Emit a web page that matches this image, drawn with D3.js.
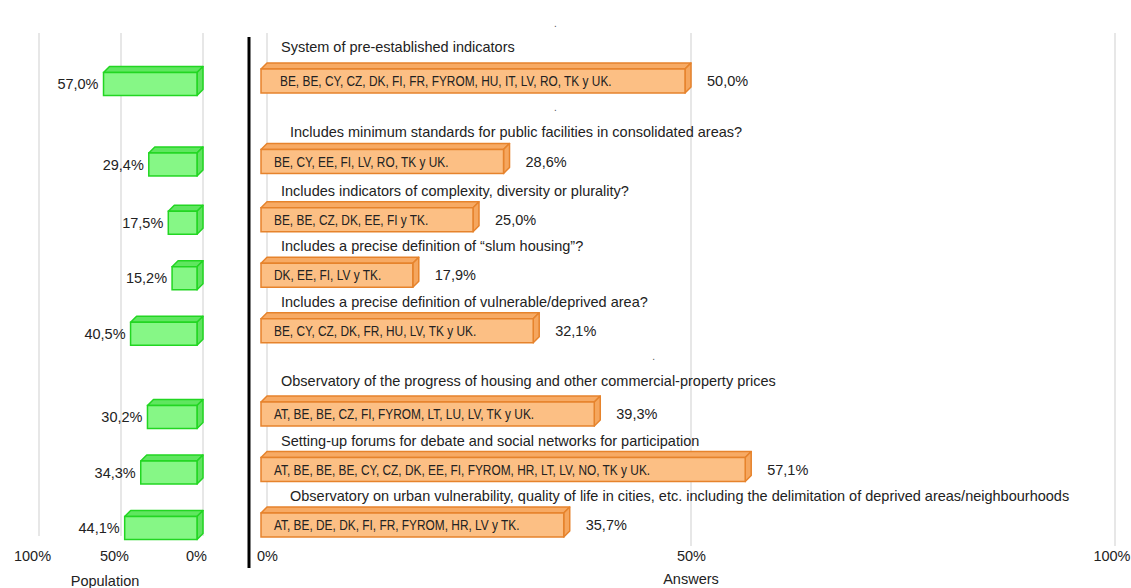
<!DOCTYPE html>
<html>
<head>
<meta charset="utf-8">
<script src="https://cdn.jsdelivr.net/npm/d3@7"></script>
<style>
  html, body { margin: 0; padding: 0; background: #ffffff; }
  svg { display: block; font-family: "Liberation Sans", Arial, sans-serif; }
  .axis path, .axis line { display: none; }
  .axis text { font-size: 14.5px; fill: #222; font-family: "Liberation Sans", Arial, sans-serif; }
</style>
</head>
<body>
<div id="chart"></div>
<script>
// row questions (label above each orange bar)
const rowLabels = [
  "System of pre-established indicators",
  "Includes minimum standards for public facilities in consolidated areas?",
  "Includes indicators of complexity, diversity or plurality?",
  "Includes a precise definition of \u201cslum housing\u201d?",
  "Includes a precise definition of vulnerable/deprived area?",
  "Observatory of the progress of housing and other commercial-property prices",
  "Setting-up forums for debate and social networks for participation",
  "Observatory on urban vulnerability, quality of life in cities, etc. including the delimitation of deprived areas/neighbourhoods"
];

// countries written inside the orange bars
const answerCountries = [
  "BE, BE, CY, CZ, DK, FI, FR, FYROM, HU, IT, LV, RO, TK y UK.",
  "BE, CY, EE, FI, LV, RO, TK y UK.",
  "BE, BE, CZ, DK, EE, FI y TK.",
  "DK, EE, FI, LV y TK.",
  "BE, CY, CZ, DK, FR, HU, LV, TK y UK.",
  "AT, BE, BE, CZ, FI, FYROM, LT, LU, LV, TK y UK.",
  "AT, BE, BE, BE, CY, CZ, DK, EE, FI, FYROM, HR, LT, LV, NO, TK y UK.",
  "AT, BE, DE, DK, FI, FR, FYROM, HR, LV y TK."
];

const answerPct     = [50.0, 28.6, 25.0, 17.9, 32.1, 39.3, 57.1, 35.7];
const populationPct = [57.0, 29.4, 17.5, 15.2, 40.5, 30.2, 34.3, 44.1];

// vertical slot of each row (blank slots between the groups)
const rowSlots = [0, 1.45, 2.5, 3.5, 4.5, 6, 7, 8];

// empty category labels (".") of the blank slots
const blankSlots = [-0.5, 1, 5.5];
const blankPct   = [34, 34, 45.6];

const axisTicks = [0, 50, 100];

const W = 1131, H = 588;
const DEPTH = 6;

const fmtPct = v => v.toFixed(1).replace(".", ",") + "%";

const svg = d3.select("#chart").append("svg")
  .attr("width", W)
  .attr("height", H);

const xPop = d3.scaleLinear().domain([0, 100]).range([203, 39]);
const xAns = d3.scaleLinear().domain([0, 100]).range([267, 1115]);
const yRow = d3.scaleLinear().domain([0, 8]).range([84, 528]);

const gridTop = 33, gridBottom = 536;

// ------- gridlines -------
svg.append("g")
  .selectAll("line")
  .data(axisTicks)
  .join("line")
  .attr("x1", d => xPop(d)).attr("x2", d => xPop(d))
  .attr("y1", gridTop).attr("y2", gridBottom)
  .attr("stroke", "#cfcfcf");

svg.append("g")
  .selectAll("line")
  .data(axisTicks)
  .join("line")
  .attr("x1", d => xAns(d)).attr("x2", d => xAns(d))
  .attr("y1", gridTop).attr("y2", d => d === 0 ? gridBottom : 546)
  .attr("stroke", "#cfcfcf");

// ------- axes (labels only) -------
svg.append("g")
  .attr("class", "axis")
  .attr("transform", `translate(-7,${551})`)
  .call(d3.axisBottom(xPop).tickValues(axisTicks).tickSize(0).tickFormat(d => d + "%"));

const ansAxis = svg.append("g")
  .attr("class", "axis")
  .attr("transform", `translate(0,${551})`)
  .call(d3.axisBottom(xAns).tickValues(axisTicks).tickSize(0).tickFormat(d => d + "%"));

svg.selectAll(".axis text").attr("dy", "0.71em").attr("y", 0);

// last label sits against the right edge
ansAxis.selectAll(".tick text")
  .filter(d => d === 100)
  .attr("text-anchor", "end")
  .attr("x", W - 1 - xAns(100));

svg.append("text")
  .attr("x", 105).attr("y", 586)
  .attr("text-anchor", "middle")
  .attr("font-size", 14.5).attr("fill", "#222")
  .text("Population");

svg.append("text")
  .attr("x", xAns(50)).attr("y", 584)
  .attr("text-anchor", "middle")
  .attr("font-size", 14.5).attr("fill", "#222")
  .text("Answers");

// separator
svg.append("line")
  .attr("x1", 249).attr("x2", 249)
  .attr("y1", 37).attr("y2", 568)
  .attr("stroke", "#000").attr("stroke-width", 3);

// blank category dots
svg.append("g")
  .selectAll("text")
  .data(blankSlots)
  .join("text")
  .attr("x", (d, i) => xAns(blankPct[i]))
  .attr("y", d => yRow(d) - 3 - 26)
  .attr("text-anchor", "middle")
  .attr("font-size", 10).attr("fill", "#555")
  .text(".");

// ------- 3D bar helper -------
function bar3d(g, x0, x1, cy, h, c) {
  const top = cy - h / 2, bot = cy + h / 2, d = DEPTH;
  g.append("path")
    .attr("d", `M${x0},${top}L${x0 + d},${top - d}L${x1 + d},${top - d}L${x1},${top}Z`)
    .attr("fill", c.top).attr("stroke", c.stroke).attr("stroke-width", 1.5).attr("stroke-linejoin", "round");
  g.append("path")
    .attr("d", `M${x1},${top}L${x1 + d},${top - d}L${x1 + d},${bot - d}L${x1},${bot}Z`)
    .attr("fill", c.side).attr("stroke", c.stroke).attr("stroke-width", 1.5).attr("stroke-linejoin", "round");
  g.append("rect")
    .attr("x", x0).attr("y", top)
    .attr("width", x1 - x0).attr("height", h)
    .attr("fill", c.front).attr("stroke", c.stroke).attr("stroke-width", 1.5);
}

const green  = { front: "#86f786", top: "#5fe65f", side: "#62e262", stroke: "#22d622" };
const orange = { front: "#fcbf84", top: "#f7aa64", side: "#f5a65e", stroke: "#e6832c" };

// ------- population (left) -------
const popG = svg.append("g");
populationPct.forEach((v, i) => {
  const cy = yRow(rowSlots[i]);
  bar3d(popG, xPop(v) - DEPTH, xPop(0) - DEPTH, cy, 23, green);
  popG.append("text")
    .attr("x", xPop(v) - DEPTH - 5)
    .attr("y", cy)
    .attr("dy", "0.35em")
    .attr("text-anchor", "end")
    .attr("font-size", 14.5).attr("fill", "#222")
    .text(fmtPct(v));
});

// ------- answers (right) -------
const ansG = svg.append("g");
answerPct.forEach((v, i) => {
  const cy = yRow(rowSlots[i]) - 3;
  bar3d(ansG, xAns(0) - DEPTH, xAns(v) - DEPTH, cy, 24, orange);

  // countries, narrow font
  ansG.append("text")
    .attr("transform", `translate(${i === 0 ? 280 : 274},${cy}) scale(0.82,1)`)
    .attr("dy", "0.35em")
    .attr("font-size", 14.5).attr("fill", "#222")
    .text(answerCountries[i]);

  ansG.append("text")
    .attr("x", xAns(v) + 16)
    .attr("y", cy)
    .attr("dy", "0.35em")
    .attr("font-size", 14.5).attr("fill", "#222")
    .text(fmtPct(v));

  // question above the bar (a bit higher for the first row)
  ansG.append("text")
    .attr("x", (i === 1 || i === 7) ? 290 : 281)
    .attr("y", cy - (i === 0 ? 29 : (i === 5 ? 28 : 24)))
    .attr("font-size", 14.5).attr("fill", "#222")
    .text(rowLabels[i]);
});
</script>
</body>
</html>
